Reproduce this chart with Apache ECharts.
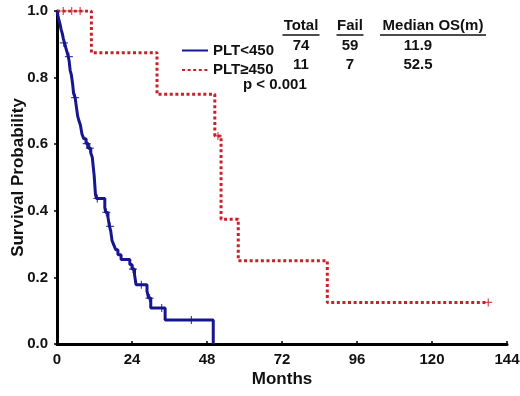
<!DOCTYPE html>
<html>
<head>
<meta charset="utf-8">
<script src="https://cdn.jsdelivr.net/npm/echarts@6/dist/echarts.min.js"></script>
<style>html,body{margin:0;padding:0;background:#fff}#c{width:520px;height:396px}</style>
</head>
<body>
<div id="c"></div>
<script>
var xTicks = [0, 24, 48, 72, 96, 120, 144];
var yTicks = [0, 0.2, 0.4, 0.6, 0.8, 1.0];

var seriesNames = ['PLT<450', 'PLT\u2265450'];

var blueTimes = [0, 0.3, 0.6, 1.0, 1.3, 1.7, 2.0, 2.4, 2.8, 3.2, 3.6, 3.9, 4.2, 4.6, 5.0, 5.3, 5.8, 6.2, 6.6, 7.0, 7.5, 8.0, 8.6, 9.3, 10.0, 10.8, 11.3, 11.6, 11.9, 12.1, 12.3, 12.6, 15.3, 15.6, 16.3, 16.8, 17.2, 17.6, 18.2, 18.8, 19.5, 20.5, 23.3, 24.0, 24.8, 25.3, 28.8, 29.3, 30.0, 34.6, 50.0];
var blueSurv = [1.0, 0.986, 0.973, 0.959, 0.945, 0.932, 0.918, 0.904, 0.890, 0.877, 0.863, 0.849, 0.822, 0.808, 0.781, 0.753, 0.740, 0.712, 0.685, 0.671, 0.657, 0.630, 0.616, 0.602, 0.588, 0.574, 0.560, 0.532, 0.505, 0.477, 0.450, 0.437, 0.409, 0.395, 0.381, 0.353, 0.339, 0.311, 0.297, 0.283, 0.268, 0.254, 0.239, 0.225, 0.209, 0.178, 0.159, 0.138, 0.108, 0.072, 0.0];
var blueCensorT = [2.2, 3.8, 5.8, 9.5, 10.5, 12.9, 15.8, 17.0, 24.3, 27.0, 29.6, 33.5, 43.0];
var blueCensorS = [0.904, 0.863, 0.740, 0.602, 0.588, 0.437, 0.395, 0.353, 0.225, 0.178, 0.138, 0.108, 0.072];

var redTimes = [0, 11.0, 32.0, 50.5, 52.5, 58.0, 86.5, 138.0];
var redSurv = [1.0, 0.875, 0.75, 0.625, 0.375, 0.25, 0.125, 0.125];
var redCensorT = [2.0, 4.7, 7.4, 51.5, 138.0];
var redCensorS = [1.0, 1.0, 1.0, 0.625, 0.125];

var tableHeader = ['Total', 'Fail', 'Median OS(m)'];
var tableRows = [['74', '59', '11.9'], ['11', '7', '52.5']];
var pText = 'p < 0.001';

function zip(a, b) { return a.map(function (v, i) { return [v, b[i]]; }); }

var BLUE = '#16168f';
var RED = '#c8202a';
var plus = 'path://M-0.6,-4h1.2v8h-1.2z M-4,-0.6h8v1.2h-8z';
var FONT = 'Liberation Sans, Arial, sans-serif';

var chart = echarts.init(document.getElementById('c'), null, {renderer: 'canvas'});

var colX = [301, 350, 433];
var rowY = [46, 65];
var graphics = [];
var headerW = [37, 27, 106];
tableHeader.forEach(function (h, i) {
  graphics.push({type: 'text', x: colX[i], y: 26, style: {text: h, fill: '#111', font: 'bold 15px ' + FONT, textAlign: 'center', textVerticalAlign: 'middle'}});
  graphics.push({type: 'line', shape: {x1: colX[i] - headerW[i] / 2, y1: 35, x2: colX[i] + headerW[i] / 2, y2: 35}, style: {stroke: '#111', lineWidth: 1.5}});
});
tableRows.forEach(function (r, ri) {
  r.forEach(function (v, ci) {
    var cx = ci === 2 ? 418 : colX[ci];
    graphics.push({type: 'text', x: cx, y: rowY[ri], style: {text: v, fill: '#111', font: 'bold 15px ' + FONT, textAlign: 'center', textVerticalAlign: 'middle'}});
  });
});
graphics.push({type: 'text', x: 243, y: 85, style: {text: pText, fill: '#111', font: 'bold 15px ' + FONT, textAlign: 'left', textVerticalAlign: 'middle'}});

chart.setOption({
  animation: false,
  backgroundColor: '#fff',
  grid: {left: 57, right: 13, top: 11, bottom: 52, containLabel: false, outerBoundsMode: 'none'},
  legend: {
    data: seriesNames.map(function (n) { return {name: n, itemStyle: {opacity: 0}}; }),
    orient: 'vertical',
    left: 176,
    top: 38,
    itemWidth: 26,
    itemHeight: 14,
    itemGap: 4.5,
    itemStyle: {opacity: 0},
    textStyle: {fontFamily: FONT, fontWeight: 'bold', fontSize: 15, color: '#111'}
  },
  xAxis: {
    type: 'value', min: 0, max: 144, interval: 24,
    name: 'Months', nameLocation: 'middle', nameGap: 27, nameMoveOverlap: false,
    nameTextStyle: {fontFamily: FONT, fontWeight: 'bold', fontSize: 17, color: '#111'},
    axisLine: {lineStyle: {color: '#000', width: 3}},
    axisTick: {show: true, inside: true, length: 3, lineStyle: {color: '#000', width: 1.5}},
    axisLabel: {fontFamily: FONT, fontWeight: 'bold', fontSize: 15, color: '#111', margin: 8},
    splitLine: {show: false}
  },
  yAxis: {
    type: 'value', min: 0, max: 1, interval: 0.2,
    name: 'Survival Probability', nameLocation: 'middle', nameGap: 30, nameMoveOverlap: false,
    nameTextStyle: {fontFamily: FONT, fontWeight: 'bold', fontSize: 17, color: '#111'},
    axisLine: {show: true, lineStyle: {color: '#000', width: 3}},
    axisTick: {show: true, length: 3, lineStyle: {color: '#000', width: 1.5}},
    axisLabel: {fontFamily: FONT, fontWeight: 'bold', fontSize: 15, color: '#111', margin: 9, formatter: function (v) { return v.toFixed(1); }},
    splitLine: {show: false}
  },
  series: [
    {name: seriesNames[0], type: 'line', step: 'end', data: zip(blueTimes, blueSurv), showSymbol: false, symbol: 'none', color: BLUE, lineStyle: {color: BLUE, width: 3}, z: 3},
    {name: seriesNames[1], type: 'line', step: 'end', data: zip(redTimes, redSurv), showSymbol: false, symbol: 'none', color: RED, lineStyle: {color: RED, width: 3, type: [3, 2.6], cap: 'butt'}, z: 2},
    {name: 'c1', type: 'scatter', data: zip(blueCensorT, blueCensorS), symbol: plus, symbolSize: 8, itemStyle: {color: BLUE}, z: 4},
    {name: 'c2', type: 'scatter', data: zip(redCensorT, redCensorS), symbol: plus, symbolSize: 8, itemStyle: {color: RED}, z: 4}
  ],
  graphic: graphics
});
</script>
</body>
</html>
